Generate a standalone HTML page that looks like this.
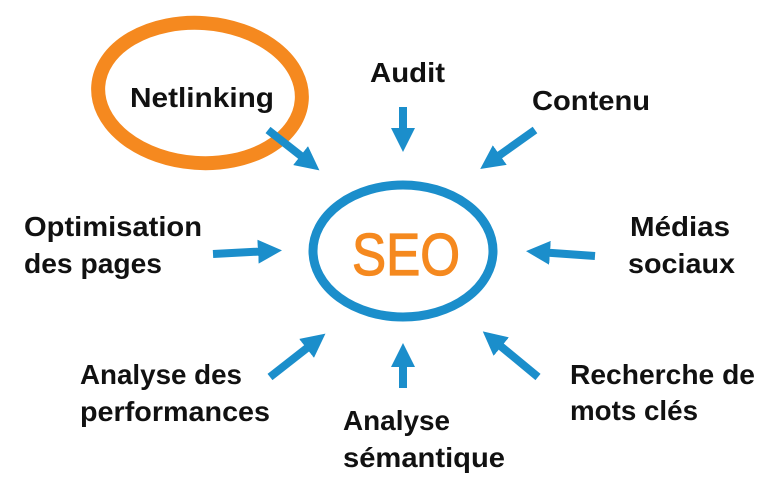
<!DOCTYPE html>
<html><head><meta charset="utf-8"><style>
html,body{margin:0;padding:0;background:#fff;}
svg{display:block}
text{font-family:"Liberation Sans",sans-serif;font-weight:bold;font-size:28px;fill:#111;}
</style></head><body>
<svg width="768" height="495" viewBox="0 0 768 495" xmlns="http://www.w3.org/2000/svg">
<defs>
<marker id="ah" markerWidth="3" markerHeight="3" refX="1.5" refY="1.5" orient="auto" markerUnits="strokeWidth">
<path d="M0,0 L3,1.5 L0,3 Z" fill="#1b8ecb"/>
</marker>
</defs>
<ellipse cx="200" cy="93" rx="102" ry="70" fill="none" stroke="#f5891f" stroke-width="14" transform="rotate(4 200 93)"/>
<ellipse cx="403" cy="251" rx="90" ry="66" fill="none" stroke="#1b8ecb" stroke-width="9"/>
<text x="352" y="275" style="font-size:59px;fill:#f5891f;font-weight:normal;stroke:#f5891f;stroke-width:1.2" textLength="108" lengthAdjust="spacingAndGlyphs">SEO</text>
<g stroke="#1b8ecb" stroke-width="8" fill="none" marker-end="url(#ah)">
<line x1="268" y1="130" x2="310" y2="163"/>
<line x1="403" y1="107" x2="403" y2="140"/>
<line x1="535" y1="130" x2="490" y2="162"/>
<line x1="213" y1="254" x2="270" y2="251"/>
<line x1="595" y1="256" x2="538" y2="252"/>
<line x1="270" y1="377" x2="316" y2="341"/>
<line x1="403" y1="388" x2="403" y2="355"/>
<line x1="538" y1="377" x2="492" y2="339"/>
</g>
<text x="130" y="107" textLength="144" lengthAdjust="spacingAndGlyphs">Netlinking</text>
<text x="370" y="82" textLength="75" lengthAdjust="spacingAndGlyphs">Audit</text>
<text x="532" y="110" textLength="118" lengthAdjust="spacingAndGlyphs">Contenu</text>
<text x="24" y="236" textLength="178" lengthAdjust="spacingAndGlyphs">Optimisation</text>
<text x="24" y="273" textLength="138" lengthAdjust="spacingAndGlyphs">des pages</text>
<text x="630" y="236" textLength="100" lengthAdjust="spacingAndGlyphs">Médias</text>
<text x="628" y="273" textLength="107" lengthAdjust="spacingAndGlyphs">sociaux</text>
<text x="80" y="384" textLength="162" lengthAdjust="spacingAndGlyphs">Analyse des</text>
<text x="80" y="421" textLength="190" lengthAdjust="spacingAndGlyphs">performances</text>
<text x="343" y="430" textLength="107" lengthAdjust="spacingAndGlyphs">Analyse</text>
<text x="343" y="467" textLength="162" lengthAdjust="spacingAndGlyphs">sémantique</text>
<text x="570" y="384" textLength="185" lengthAdjust="spacingAndGlyphs">Recherche de</text>
<text x="570" y="420" textLength="128" lengthAdjust="spacingAndGlyphs">mots clés</text>
</svg>
</body></html>
